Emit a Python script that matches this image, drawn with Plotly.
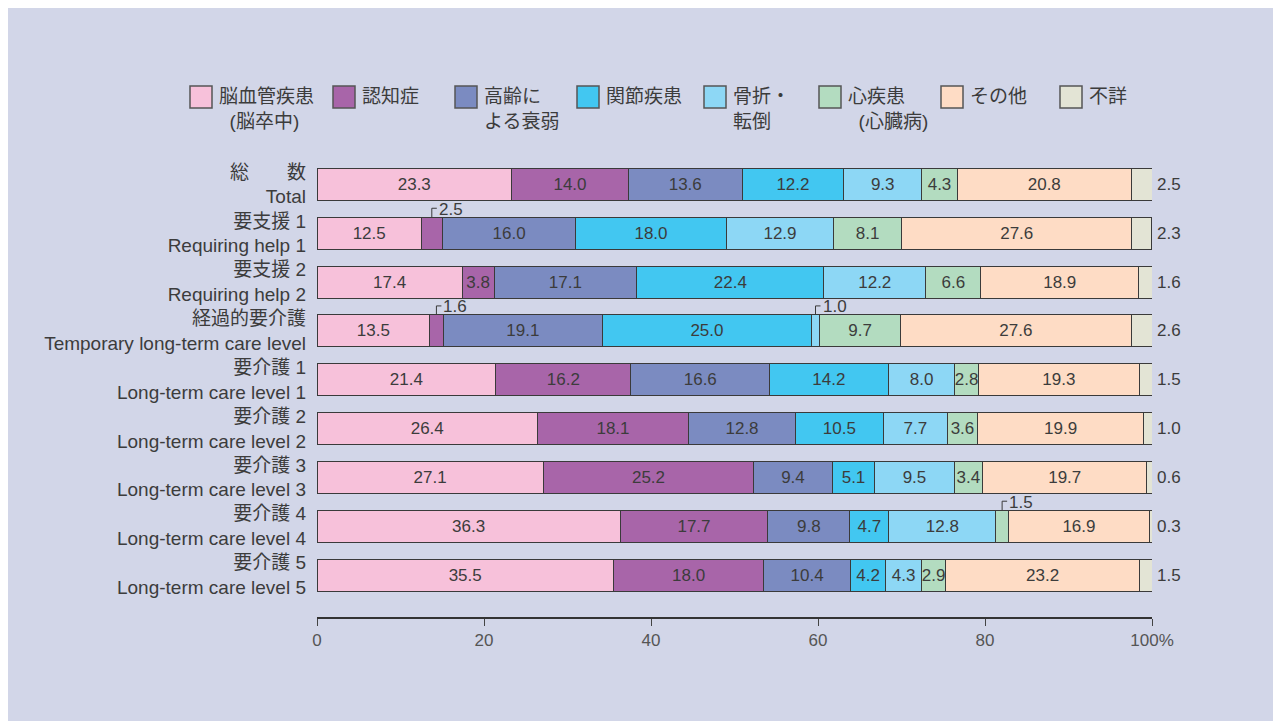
import plotly.graph_objects as go

# categorie (righe) e cause
rows = [
    "総　　数<br>Total",
    "要支援 1<br>Requiring help 1",
    "要支援 2<br>Requiring help 2",
    "経過的要介護<br>Temporary long-term care level",
    "要介護 1<br>Long-term care level 1",
    "要介護 2<br>Long-term care level 2",
    "要介護 3<br>Long-term care level 3",
    "要介護 4<br>Long-term care level 4",
    "要介護 5<br>Long-term care level 5",
]
causes = ["脳血管疾患", "認知症", "高齢による衰弱", "関節疾患", "骨折・転倒", "心疾患", "その他", "不詳"]
legend_text = [
    "脳血管疾患<br>\u00a0\u00a0(脳卒中)",
    "認知症",
    "高齢に<br>よる衰弱",
    "関節疾患",
    "骨折・<br>転倒",
    "心疾患<br>\u00a0\u00a0(心臓病)",
    "その他",
    "不詳",
]

stroke = [23.3, 12.5, 17.4, 13.5, 21.4, 26.4, 27.1, 36.3, 35.5]
dementia = [14.0, 2.5, 3.8, 1.6, 16.2, 18.1, 25.2, 17.7, 18.0]
frailty = [13.6, 16.0, 17.1, 19.1, 16.6, 12.8, 9.4, 9.8, 10.4]
joint = [12.2, 18.0, 22.4, 25.0, 14.2, 10.5, 5.1, 4.7, 4.2]
fracture = [9.3, 12.9, 12.2, 1.0, 8.0, 7.7, 9.5, 12.8, 4.3]
heart = [4.3, 8.1, 6.6, 9.7, 2.8, 3.6, 3.4, 1.5, 2.9]
other = [20.8, 27.6, 18.9, 27.6, 19.3, 19.9, 19.7, 16.9, 23.2]
unknown = [2.5, 2.3, 1.6, 2.6, 1.5, 1.0, 0.6, 0.3, 1.5]

series = [stroke, dementia, frailty, joint, fracture, heart, other, unknown]
colors = ["#f7c1da", "#a865a9", "#7b8bc1", "#42c7f1", "#8dd7f5", "#b3dcc0", "#fedcc5", "#e3e4d5"]

INSIDE_MIN = 2.8   # sotto questa soglia l'etichetta va fuori con la parentesi
NUM_FONT = "Liberation Sans Narrow, Arial Narrow, Liberation Sans, sans-serif"
JP_FONT = "Liberation Sans, Noto Sans CJK JP, sans-serif"
TXT = "#3c3c3c"

# geometria: la pagina ha 8px di margine del body
OFF = 8
W, H = 1281, 721
L, R, T, B = 317 - OFF, 1281 - (1152 - OFF), 160 - OFF, 721 - (617 - OFF)
PW, PH = W - L - R, H - T - B


def px(xs):
    # pixel dello screenshot -> coordinate paper
    return (xs - OFF - L) / PW


def py(ys):
    return (H - B - (ys - OFF)) / PH


fig = go.Figure()

for i, (name, vals, col) in enumerate(zip(causes, series, colors)):
    last = i == len(series) - 1
    text = ["" if (last or v < INSIDE_MIN) else f"{v:.1f}" for v in vals]
    fig.add_trace(go.Bar(
        y=rows, x=vals, name=name, orientation="h",
        marker=dict(color=col, line=dict(color="#3a3a3a", width=1)),
        text=text, textposition="inside", insidetextanchor="middle",
        textangle=0, constraintext="none",
        textfont=dict(family=NUM_FONT, size=17, color=TXT),
        showlegend=False,
    ))

# etichette piccole con parentesi sopra la barra
half = 0.3275
up = 9 / 48.9
for i, vals in enumerate(series[:-1]):
    for j, v in enumerate(vals):
        if v >= INSIDE_MIN:
            continue
        start = sum(s[j] for s in series[:i])
        xc = start + v / 2
        top = j - half
        corner = top - up
        fig.add_shape(type="path", xref="x", yref="y",
                      path=f"M {xc},{top} L {xc},{corner} L {xc + 0.6},{corner}",
                      line=dict(color="#3a3a3a", width=1))
        fig.add_annotation(x=xc, y=corner, xref="x", yref="y", text=f"{v:.1f}",
                           showarrow=False, xanchor="left", yanchor="middle",
                           xshift=5, yshift=-1,
                           font=dict(family=NUM_FONT, size=17, color=TXT))

# valori "不詳" a destra
for j, v in enumerate(unknown):
    fig.add_annotation(x=100, y=j, xref="x", yref="y", text=f"{v:.1f}",
                       showarrow=False, xanchor="left", yanchor="middle", xshift=3,
                       font=dict(family=NUM_FONT, size=17, color=TXT))

# legenda manuale
leg_x = [190, 333, 455, 577, 704, 819, 941, 1060]
for lx, col, t in zip(leg_x, colors, legend_text):
    fig.add_shape(type="rect", xref="paper", yref="paper",
                  x0=px(lx), x1=px(lx + 22), y0=py(108), y1=py(86),
                  fillcolor=col, line=dict(color="#555555", width=1.5))
    fig.add_annotation(x=px(lx + 27), y=py(84), xref="paper", yref="paper", text=t,
                       showarrow=False, xanchor="left", yanchor="top", align="left",
                       font=dict(family=JP_FONT, size=19, color=TXT))

fig.update_layout(
    width=W, height=H,
    margin=dict(l=L, r=R, t=T, b=B),
    barmode="stack", bargap=0.345,
    paper_bgcolor="#d2d6e8", plot_bgcolor="rgba(0,0,0,0)",
    uniformtext=dict(minsize=17, mode="show"),
    font=dict(family=JP_FONT, color=TXT),
    xaxis=dict(range=[0, 100], tickvals=[0, 20, 40, 60, 80, 100],
               ticktext=["0", "20", "40", "60", "80", "100%"],
               showgrid=False, zeroline=False, showline=True,
               linecolor="#333333", linewidth=1.5,
               ticks="outside", ticklen=7, tickcolor="#444444",
               tickfont=dict(family=NUM_FONT, size=17, color="#555555")),
    yaxis=dict(range=[8.86, -0.5], showgrid=False, zeroline=False, showline=False,
               ticks="", ticklabelstandoff=10,
               tickfont=dict(family=JP_FONT, size=19, color=TXT)),
)

fig.write_html("out.html")
